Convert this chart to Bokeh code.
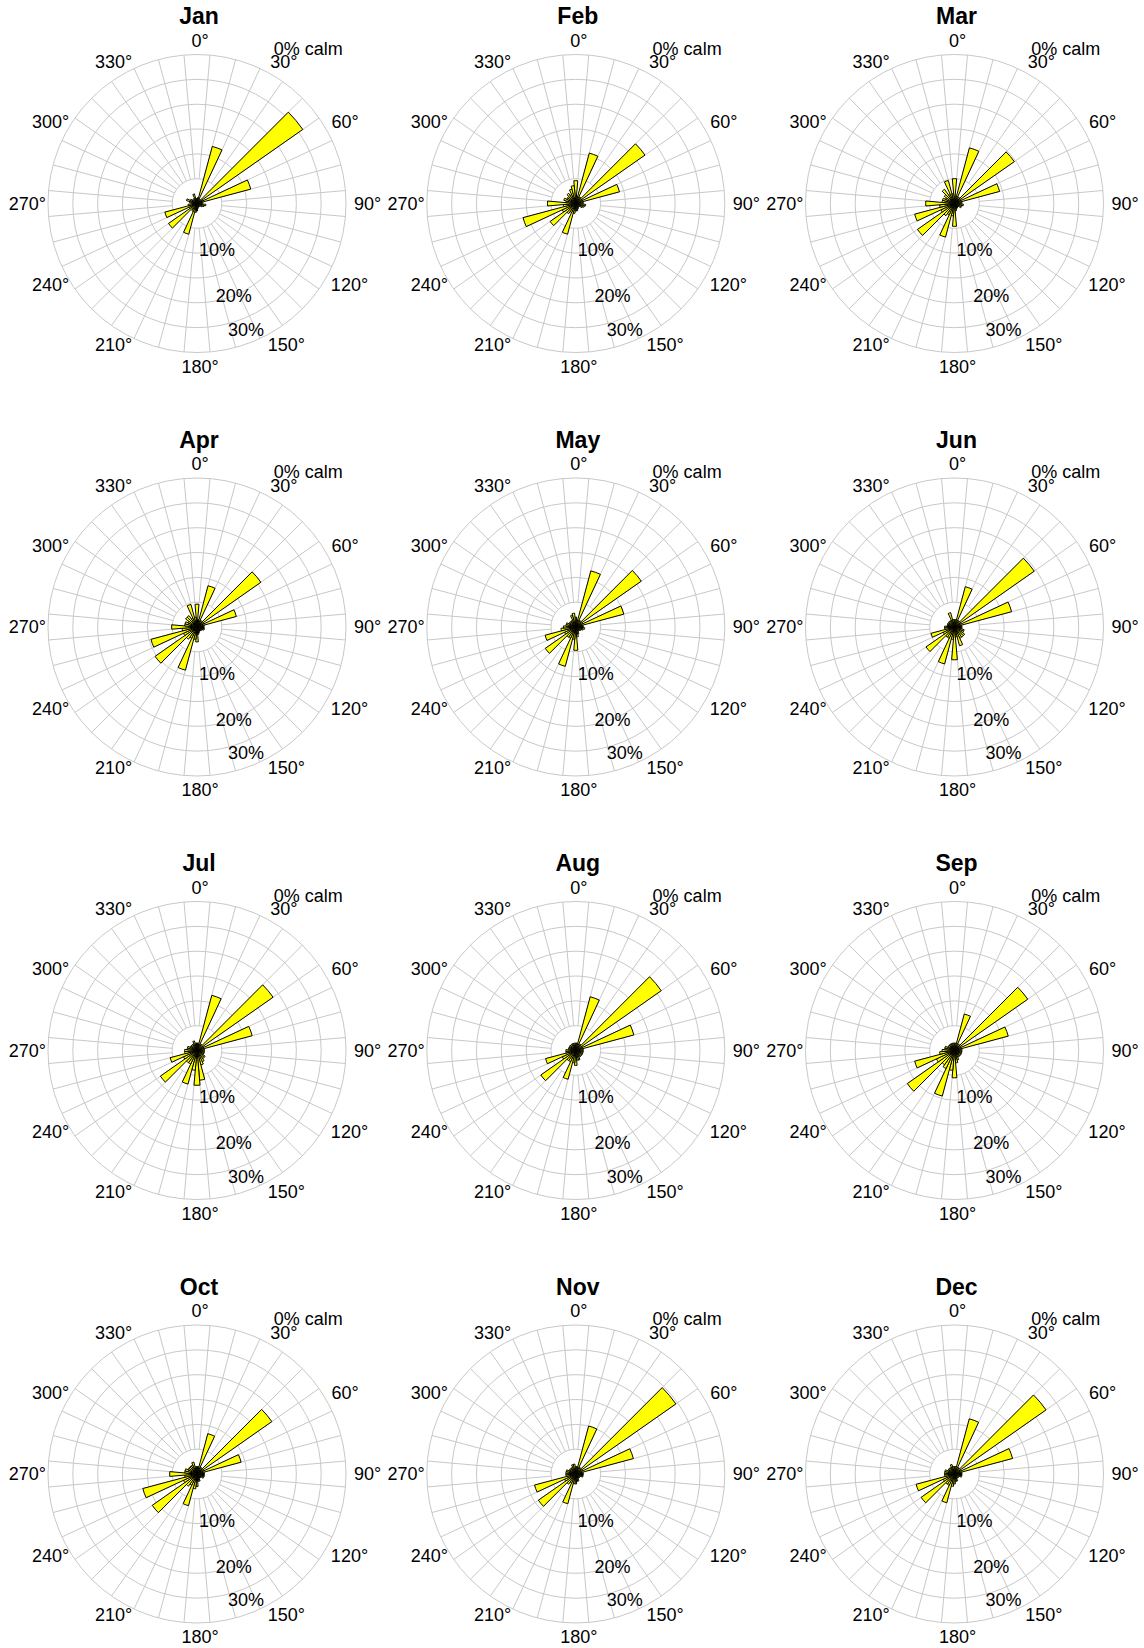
import math
from bokeh.plotting import figure
from bokeh.layouts import column, row
from bokeh.models import Range1d, ColumnDataSource
from bokeh.core.properties import value
from bokeh.embed import file_html
from bokeh.resources import INLINE

# ---------------- data ----------------
months = ["Jan", "Feb", "Mar", "Apr", "May", "Jun",
          "Jul", "Aug", "Sep", "Oct", "Nov", "Dec"]
directions = list(range(0, 360, 10))   # wind direction bins (deg)

jan = [1.0, 1.2, 11.9, 1.0, 1.0, 26.0, 1.2, 11.2, 1.2, 1.0, 1.8, 1.5, 1.2, 0.8, 0.8, 0.6, 0.8, 1.0,
       1.5, 1.8, 6.4, 1.8, 1.5, 7.0, 1.8, 6.7, 1.8, 1.0, 1.5, 2.2, 1.5, 1.0, 1.2, 1.0, 2.0, 1.0]
feb = [4.6, 1.5, 10.5, 1.5, 1.5, 17.0, 1.5, 9.1, 1.5, 1.5, 2.0, 1.8, 1.5, 1.0, 0.8, 1.0, 1.2, 1.5,
       1.5, 2.0, 6.4, 2.0, 2.5, 6.3, 3.0, 11.0, 2.5, 5.7, 2.0, 2.5, 2.0, 2.0, 2.5, 2.0, 3.0, 3.6]
mar = [5.0, 1.5, 11.6, 1.5, 1.5, 14.7, 1.5, 9.4, 1.5, 1.5, 1.8, 1.5, 1.5, 1.0, 1.0, 1.0, 1.2, 1.5,
       4.6, 2.5, 7.0, 2.5, 3.0, 9.1, 3.0, 8.3, 3.0, 5.8, 2.5, 2.5, 2.0, 2.5, 3.5, 2.0, 4.8, 2.0]
apr = [4.6, 1.5, 8.6, 1.5, 1.5, 15.7, 1.5, 8.2, 1.5, 1.2, 1.5, 1.5, 1.2, 1.0, 1.0, 1.0, 1.2, 1.5,
       3.0, 2.5, 9.0, 2.5, 3.0, 10.3, 3.0, 9.6, 3.0, 5.1, 2.5, 2.5, 2.0, 2.8, 2.8, 2.0, 4.7, 2.0]
may = [2.0, 1.5, 11.7, 1.5, 1.5, 16.1, 1.5, 10.0, 1.5, 1.5, 1.8, 1.5, 1.2, 1.0, 1.0, 1.0, 1.5, 2.0,
       4.7, 2.5, 8.2, 2.5, 2.5, 7.5, 2.5, 6.4, 3.0, 2.5, 2.0, 2.0, 1.5, 1.5, 1.5, 1.5, 2.5, 2.8]
jun = [1.5, 1.5, 8.4, 1.5, 1.5, 19.6, 1.5, 11.9, 1.5, 1.5, 1.5, 2.0, 2.0, 2.5, 2.5, 2.5, 3.9, 2.0,
       6.6, 2.5, 7.7, 2.5, 2.5, 7.0, 2.5, 4.9, 2.0, 2.0, 1.5, 1.5, 1.5, 1.5, 1.5, 1.5, 3.0, 1.5]
jul = [1.5, 1.5, 11.5, 1.5, 1.5, 18.7, 1.5, 11.5, 1.5, 1.5, 1.5, 1.5, 1.5, 2.0, 2.0, 2.5, 3.0, 6.0,
       7.0, 4.0, 7.0, 3.0, 3.0, 9.0, 3.0, 5.6, 2.5, 2.5, 2.0, 2.0, 1.5, 1.5, 1.5, 1.5, 2.0, 1.5]
aug = [1.5, 1.5, 11.2, 1.5, 1.5, 21.0, 1.5, 12.1, 1.5, 1.5, 1.5, 1.5, 1.5, 1.5, 1.5, 1.5, 2.0, 2.0,
       3.0, 2.5, 6.0, 2.5, 2.5, 8.6, 3.0, 6.3, 2.0, 2.0, 1.5, 1.5, 1.5, 1.5, 1.5, 1.5, 1.5, 1.5]
sep = [1.5, 1.5, 7.6, 1.5, 1.5, 18.0, 1.5, 11.2, 1.5, 1.5, 1.5, 1.5, 1.5, 1.5, 1.5, 1.5, 2.0, 2.5,
       5.5, 4.0, 9.5, 4.0, 3.5, 11.6, 4.0, 8.3, 3.0, 2.5, 2.0, 2.0, 1.5, 1.5, 1.5, 1.5, 1.5, 1.5]
oct_ = [1.5, 1.5, 8.4, 1.5, 1.5, 18.4, 1.5, 9.2, 1.5, 1.5, 1.5, 1.5, 1.5, 1.0, 1.0, 1.0, 1.5, 1.5,
        2.5, 3.0, 6.6, 2.5, 3.0, 11.0, 3.0, 11.3, 2.5, 5.5, 2.5, 2.5, 2.0, 2.0, 2.0, 2.0, 2.5, 1.5]
nov = [1.5, 1.5, 10.0, 1.5, 1.5, 24.6, 1.5, 12.0, 1.5, 1.5, 1.5, 1.5, 1.0, 1.0, 1.0, 1.0, 1.5, 1.5,
       2.0, 2.0, 6.2, 2.0, 2.5, 9.2, 2.5, 8.6, 2.0, 2.0, 2.0, 2.0, 1.5, 1.5, 1.5, 1.5, 2.0, 2.0]
dec = [1.5, 1.5, 11.5, 1.5, 1.5, 22.5, 1.5, 12.1, 1.5, 1.5, 1.5, 1.5, 1.0, 1.0, 1.0, 1.0, 1.5, 1.5,
       2.0, 2.5, 6.0, 2.5, 2.5, 8.2, 2.5, 8.0, 2.0, 2.0, 2.0, 2.0, 1.5, 1.5, 1.5, 1.5, 2.0, 1.5]

month_values = [jan, feb, mar, apr, may, jun, jul, aug, sep, oct_, nov, dec]
calm_pct = [0] * 12

ring_pcts = [5, 10, 15, 20, 25, 30]
pct_label_vals = [10, 20, 30]
pct_labels = ["10%", "20%", "30%"]
deg_ticks = list(range(0, 360, 30))
deg_labels = [f"{d}\u00b0" for d in deg_ticks]

# ---------------- layout / style ----------------
S = 4.967                      # pixels per percent
BIN = 10
GRID_COL = "#c8c8c8"
FILL = "#ffff00"
FONT = "Liberation Sans"
FS = 18.0                      # px
col_edges = [0, 384, 762, 1144]
row_edges = [0, 415, 838, 1262, 1648]
col_centers = [196.5, 575.3, 954.0]
row_centers = [203.0, 626.5, 1050.0, 1473.5]
pct_label_r = [10.0, 19.85, 27.1]
pct_label_dir = 160.0
label_r_px = 154.0
label_half_h = 9.0
x_shift_px = 3.0


def polar(r, compass_deg):
    a = math.radians(90.0 - compass_deg)
    return r * math.cos(a), r * math.sin(a)


def text_w(t, fs=FS):
    w = 0.0
    for ch in t:
        if ch.isdigit():
            w += 0.556
        elif ch == "\u00b0":
            w += 0.4
        elif ch == "%":
            w += 0.889
        else:
            w += 0.5
    return w * fs


def make_rose(i, j, name, vals, calm):
    W = col_edges[j + 1] - col_edges[j]
    H = row_edges[i + 1] - row_edges[i]
    cx = col_centers[j] - col_edges[j]
    cy = row_centers[i] - row_edges[i]
    p = figure(width=W, height=H,
               x_range=Range1d(-cx / S, (W - cx) / S),
               y_range=Range1d(-(H - cy) / S, cy / S),
               output_backend="svg", toolbar_location=None,
               x_axis_location=None, y_axis_location=None,
               min_border=0, outline_line_color=None,
               background_fill_color="white", border_fill_color="white")
    p.grid.visible = False

    # spokes (bin boundaries) from the inner ring to the outer ring
    sx0, sy0, sx1, sy1 = [], [], [], []
    for d in directions:
        b = d + BIN / 2
        x0, y0 = polar(ring_pcts[0], b)
        x1, y1 = polar(ring_pcts[-1], b)
        sx0.append(x0); sy0.append(y0); sx1.append(x1); sy1.append(y1)
    p.segment(x0=sx0, y0=sy0, x1=sx1, y1=sy1, line_color=GRID_COL, line_width=1)
    p.circle(x=[0] * len(ring_pcts), y=[0] * len(ring_pcts), radius=ring_pcts,
             fill_color=None, line_color=GRID_COL, line_width=1)

    # wedges
    src = ColumnDataSource(dict(
        r=vals,
        a0=[math.radians(90 - d - BIN / 2) for d in directions],
        a1=[math.radians(90 - d + BIN / 2) for d in directions],
    ))
    p.wedge(x=0, y=0, radius="r", start_angle="a0", end_angle="a1", source=src,
            fill_color=FILL, line_color="black", line_width=1)

    # direction labels
    lx, ly = [], []
    for d, t in zip(deg_ticks, deg_labels):
        a = math.radians(d)
        ax, ay = label_r_px * math.sin(a), -label_r_px * math.cos(a)
        px = ax + math.sin(a) * text_w(t) / 2 + x_shift_px
        py = ay - math.cos(a) * label_half_h
        lx.append(px / S); ly.append(-py / S)
    p.text(x=lx, y=ly, text=deg_labels, text_font=value(FONT), text_font_size=f"{FS}px",
           text_align="center", text_baseline="middle", text_color="black")

    # percentage labels
    px_, py_ = [], []
    for r in pct_label_r:
        x, y = polar(r, pct_label_dir)
        px_.append(x + x_shift_px / S); py_.append(y)
    p.text(x=px_, y=py_, text=pct_labels, text_font=value(FONT), text_font_size=f"{FS}px",
           text_align="center", text_baseline="middle", text_color="black")

    # calm label
    p.text(x=[76.8 / S], y=[154.7 / S], text=[f"{calm}% calm"], text_font=value(FONT),
           text_font_size=f"{FS}px", text_align="left", text_baseline="middle",
           text_color="black")

    # title
    p.text(x=[2.0 / S], y=[187.5 / S], text=[name], text_font=value(FONT),
           text_font_size="23px", text_font_style="bold", text_align="center",
           text_baseline="middle", text_color="black")
    return p


rows = []
for i in range(4):
    figs = []
    for j in range(3):
        k = i * 3 + j
        figs.append(make_rose(i, j, months[k], month_values[k], calm_pct[k]))
    rows.append(row(*figs))
layout = column(*rows)

with open("out.html", "w") as f:
    f.write(file_html(layout, INLINE, title="Wind roses by month"))
